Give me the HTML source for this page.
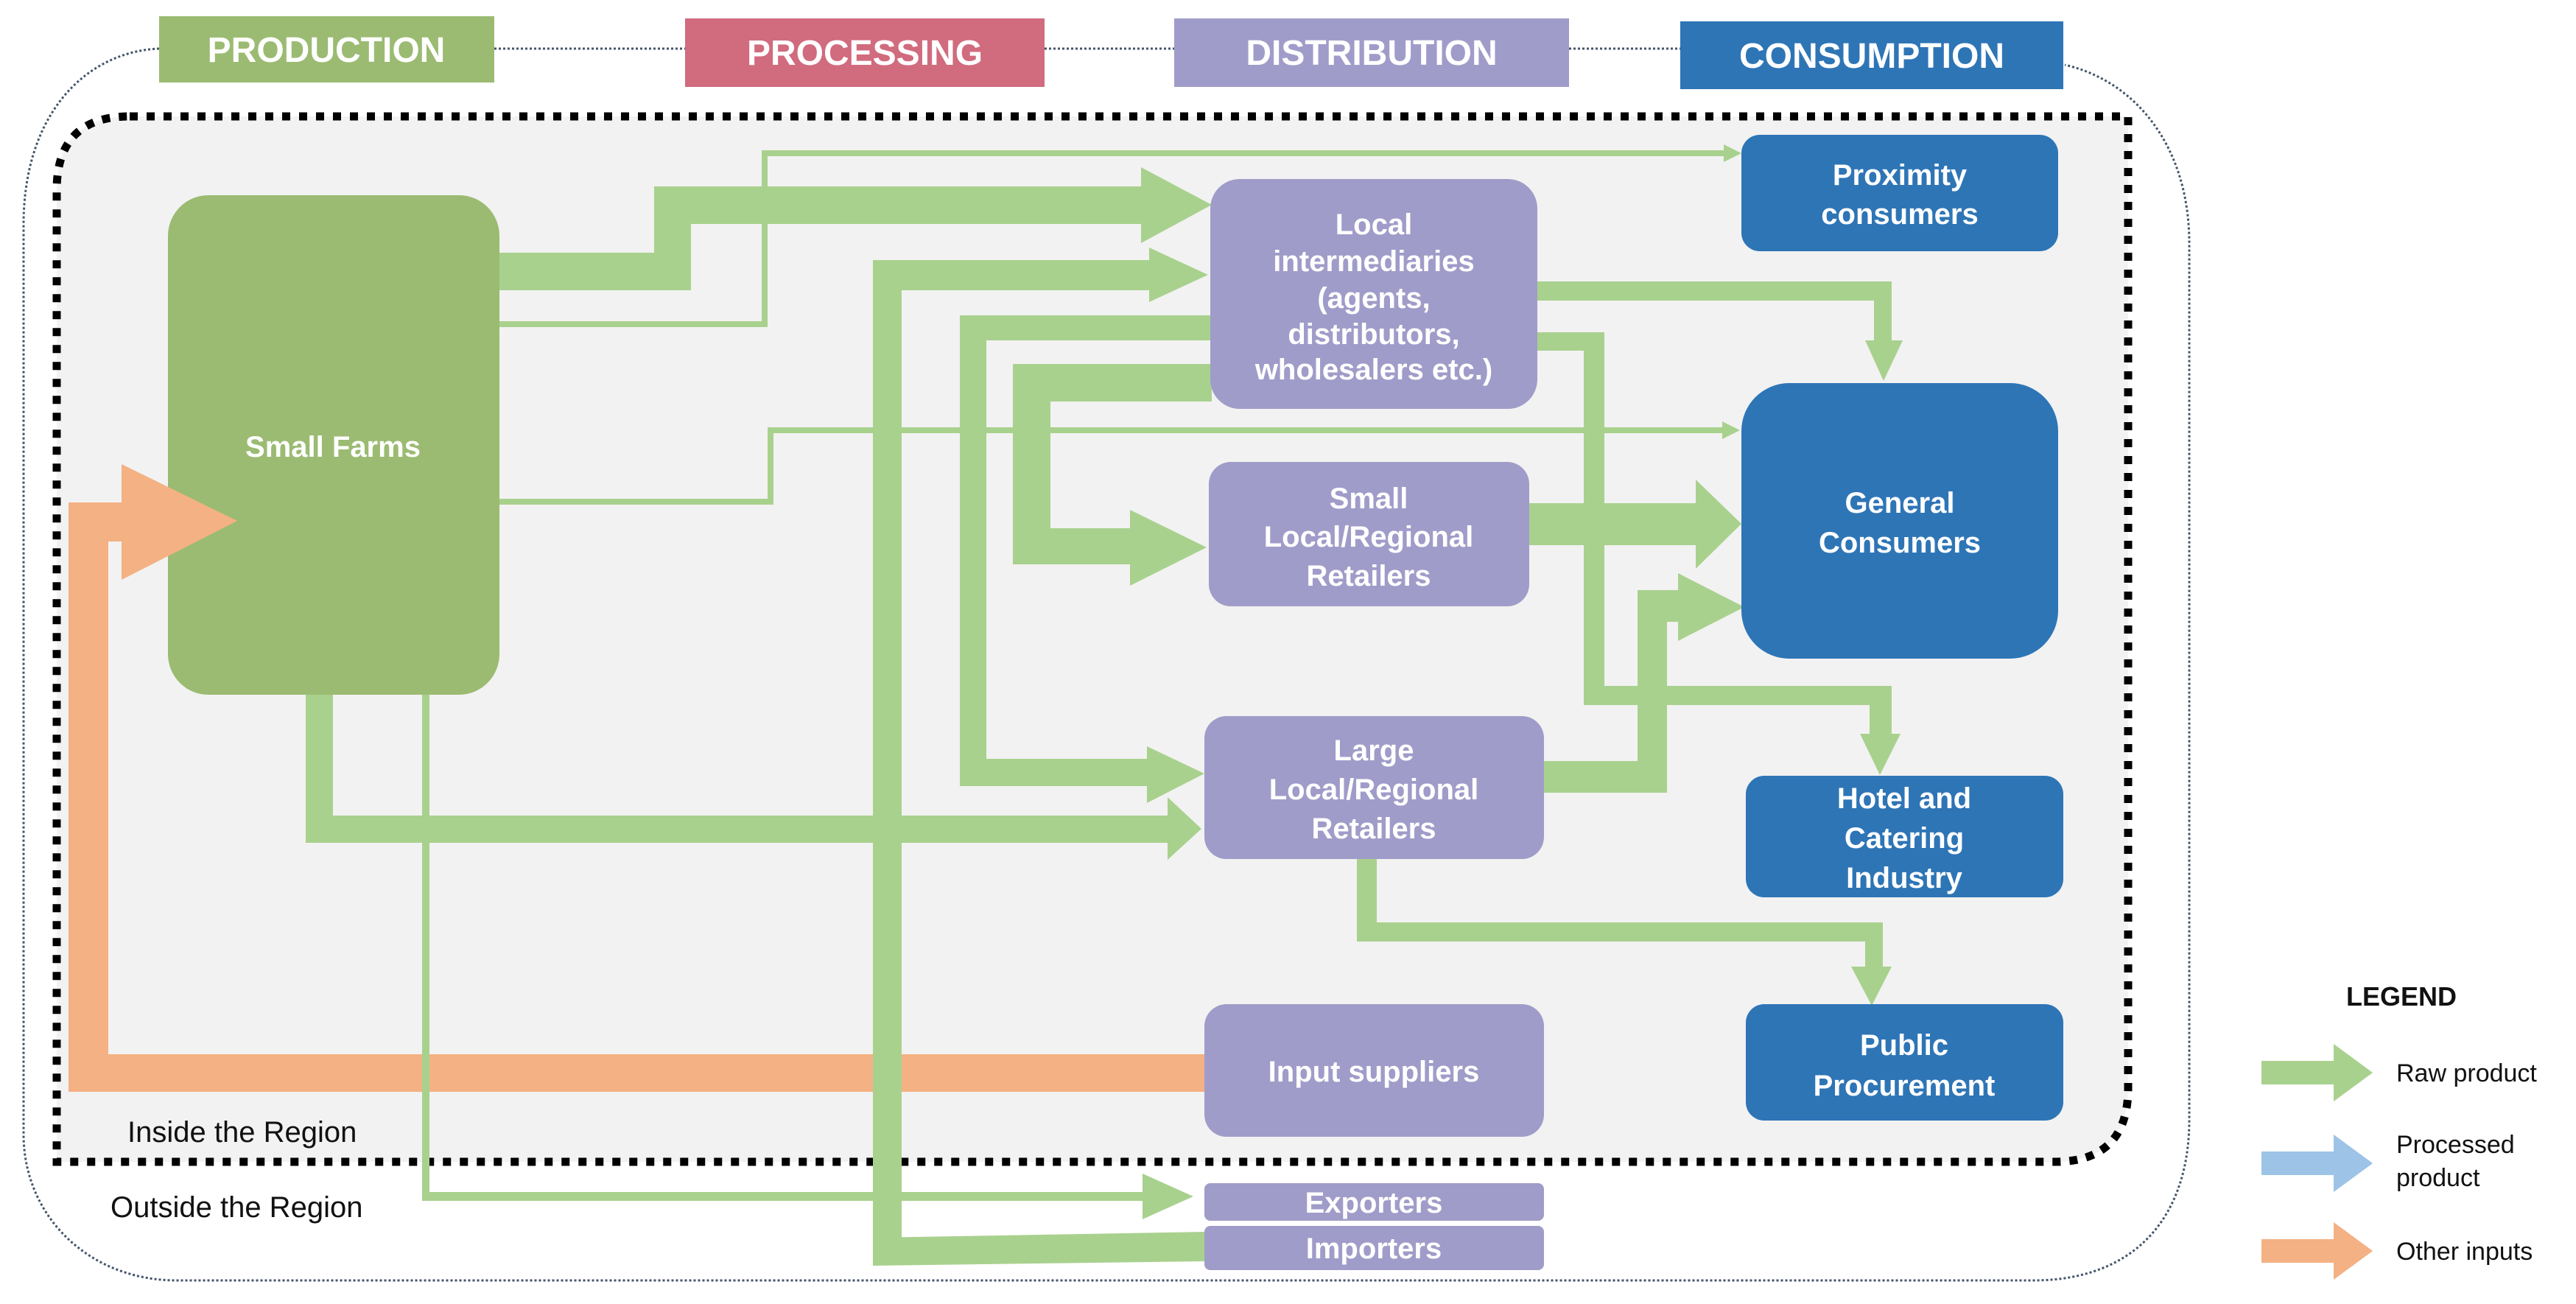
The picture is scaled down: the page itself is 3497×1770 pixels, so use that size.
<!DOCTYPE html>
<html><head><meta charset="utf-8"><style>
html,body{margin:0;padding:0;background:#fff;}
svg{display:block;}
text{font-family:"Liberation Sans",Arial,sans-serif;}
.h{font-weight:bold;font-size:48px;fill:#fff;}
.n{font-weight:bold;font-size:40px;fill:#fff;}
.l{font-size:40px;fill:#111;}
</style></head><body>
<svg width="3497" height="1770" viewBox="0 0 3497 1770" xmlns="http://www.w3.org/2000/svg">
<!-- outer dotted frame -->
<path d="M216,66 C120,70 34,150 32,300 L32,1540 C32,1650 120,1738 240,1738 L2760,1738 C2900,1738 2972,1650 2972,1520 L2972,330 C2972,200 2900,110 2803,88" fill="none" stroke="#44546a" stroke-width="3" stroke-dasharray="3,3"/>
<line x1="671" y1="66" x2="930" y2="66" stroke="#44546a" stroke-width="3" stroke-dasharray="3,3"/>
<line x1="1418" y1="66" x2="1594" y2="66" stroke="#44546a" stroke-width="3" stroke-dasharray="3,3"/>
<line x1="2130" y1="66" x2="2281" y2="66" stroke="#44546a" stroke-width="3" stroke-dasharray="3,3"/>
<!-- inner region -->
<path d="M176,158 L2889,158 L2889,1477 Q2889,1577 2789,1577 L77,1577 L77,258 Q77,158 176,158 Z" fill="#f2f2f2" stroke="#000" stroke-width="11" stroke-dasharray="11,12"/>
<!-- headers -->
<rect x="216" y="22" width="455" height="90" fill="#9bbb72"/>
<text class="h" x="443" y="84" text-anchor="middle">PRODUCTION</text>
<rect x="930" y="25" width="488" height="93" fill="#d16b7e"/>
<text class="h" x="1174" y="88" text-anchor="middle">PROCESSING</text>
<rect x="1594" y="25" width="536" height="93" fill="#a09cc9"/>
<text class="h" x="1862" y="88" text-anchor="middle">DISTRIBUTION</text>
<rect x="2281" y="29" width="520" height="92" fill="#2e75b6"/>
<text class="h" x="2541" y="92" text-anchor="middle">CONSUMPTION</text>

<!-- orange input shaft -->
<g fill="#f4b183">
<rect x="93" y="1431" width="1547" height="51"/>
<rect x="93" y="682" width="54" height="800"/>
<rect x="93" y="682" width="77" height="53"/>
</g>

<!-- green flows -->
<g fill="#a9d18e">
<rect x="678" y="343" width="260" height="51"/>
<rect x="888" y="253" width="50" height="141"/>
<rect x="888" y="253" width="662" height="51"/>
<polygon points="1549,227 1645,278 1549,330"/>
<rect x="672" y="436" width="370" height="8"/>
<rect x="1034" y="204" width="8" height="240"/>
<rect x="1034" y="204" width="1310" height="8"/>
<polygon points="2340,196 2364,208 2340,220"/>
<rect x="672" y="677" width="378" height="8"/>
<rect x="1042" y="580" width="8" height="105"/>
<rect x="1042" y="580" width="1300" height="8"/>
<polygon points="2338,572 2362,584 2338,596"/>
<rect x="1185" y="353" width="39" height="1362"/>
<rect x="1185" y="353" width="380" height="41"/>
<polygon points="1560,336 1640,373 1560,410"/>
<polygon points="1185,1680 1637,1672 1637,1712 1185,1718"/>
<rect x="1303" y="428" width="342" height="34"/>
<rect x="1303" y="428" width="36" height="639"/>
<rect x="1303" y="1030" width="258" height="37"/>
<polygon points="1557,1013 1635,1050 1557,1090"/>
<rect x="1375" y="494" width="270" height="51"/>
<rect x="1375" y="494" width="51" height="272"/>
<rect x="1375" y="717" width="162" height="49"/>
<polygon points="1534,692 1638,743 1534,795"/>
<rect x="415" y="940" width="37" height="204"/>
<rect x="415" y="1107" width="1175" height="37"/>
<polygon points="1585,1082 1631,1125 1585,1167"/>
<rect x="573" y="940" width="10" height="690"/>
<rect x="573" y="1618" width="982" height="12"/>
<polygon points="1551,1593 1620,1624 1551,1655"/>
<rect x="2085" y="382" width="483" height="26"/>
<rect x="2544" y="382" width="24" height="85"/>
<polygon points="2532,462 2583,462 2557,517"/>
<rect x="2085" y="451" width="93" height="25"/>
<rect x="2150" y="451" width="28" height="506"/>
<rect x="2150" y="931" width="418" height="26"/>
<rect x="2538" y="931" width="30" height="70"/>
<polygon points="2525,996 2580,996 2552,1052"/>
<rect x="2070" y="683" width="236" height="57"/>
<polygon points="2302,651 2364,711 2302,772"/>
<rect x="2090" y="1033" width="173" height="43"/>
<rect x="2223" y="801" width="40" height="275"/>
<rect x="2223" y="801" width="60" height="43"/>
<polygon points="2278,778 2368,824 2278,870"/>
<rect x="1842" y="1160" width="27" height="118"/>
<rect x="1842" y="1252" width="714" height="26"/>
<rect x="2532" y="1252" width="24" height="65"/>
<polygon points="2513,1312 2568,1312 2541,1365"/>
</g>

<!-- nodes -->
<rect x="228" y="265" width="450" height="678" rx="55" fill="#9bbb72"/>
<text class="n" x="452" y="620" text-anchor="middle">Small Farms</text>
<!-- orange head over farms -->
<polygon fill="#f4b183" points="165,630 322,707 165,787"/>

<g fill="#a09cc9">
<rect x="1643" y="243" width="444" height="312" rx="40"/>
<rect x="1641" y="627" width="435" height="196" rx="30"/>
<rect x="1635" y="972" width="461" height="194" rx="30"/>
<rect x="1635" y="1363" width="461" height="180" rx="30"/>
<rect x="1635" y="1606" width="461" height="51" rx="8"/>
<rect x="1635" y="1664" width="461" height="60" rx="8"/>
</g>
<g text-anchor="middle">
<text class="n" x="1865" y="318">Local</text>
<text class="n" x="1865" y="368">intermediaries</text>
<text class="n" x="1865" y="418">(agents,</text>
<text class="n" x="1865" y="467">distributors,</text>
<text class="n" x="1865" y="515">wholesalers etc.)</text>
<text class="n" x="1858" y="690">Small</text>
<text class="n" x="1858" y="742">Local/Regional</text>
<text class="n" x="1858" y="795">Retailers</text>
<text class="n" x="1865" y="1032">Large</text>
<text class="n" x="1865" y="1085">Local/Regional</text>
<text class="n" x="1865" y="1138">Retailers</text>
<text class="n" x="1865" y="1468">Input suppliers</text>
<text class="n" x="1865" y="1646">Exporters</text>
<text class="n" x="1865" y="1708">Importers</text>
</g>

<g fill="#2e75b6">
<rect x="2364" y="183" width="430" height="158" rx="25"/>
<rect x="2364" y="520" width="430" height="374" rx="65"/>
<rect x="2370" y="1053" width="431" height="165" rx="25"/>
<rect x="2370" y="1363" width="431" height="158" rx="25"/>
</g>
<g text-anchor="middle">
<text class="n" x="2579" y="251">Proximity</text>
<text class="n" x="2579" y="304">consumers</text>
<text class="n" x="2579" y="696">General</text>
<text class="n" x="2579" y="750">Consumers</text>
<text class="n" x="2585" y="1097">Hotel and</text>
<text class="n" x="2585" y="1151">Catering</text>
<text class="n" x="2585" y="1205">Industry</text>
<text class="n" x="2585" y="1432">Public</text>
<text class="n" x="2585" y="1487">Procurement</text>
</g>

<text class="l" x="173" y="1550">Inside the Region</text>
<text class="l" x="150" y="1652">Outside the Region</text>

<!-- legend -->
<text x="3185" y="1365" style="font-weight:bold;font-size:36px;fill:#111;">LEGEND</text>
<g fill="#a9d18e"><rect x="3070" y="1440" width="100" height="32"/><polygon points="3168,1417 3221,1456 3168,1495"/></g>
<text class="l" x="3253" y="1468" style="font-size:34px">Raw product</text>
<g fill="#9dc3e6"><rect x="3070" y="1563" width="100" height="32"/><polygon points="3168,1540 3221,1579 3168,1618"/></g>
<text class="l" x="3253" y="1565" style="font-size:34px">Processed</text>
<text class="l" x="3253" y="1610" style="font-size:34px">product</text>
<g fill="#f4b183"><rect x="3070" y="1682" width="100" height="32"/><polygon points="3168,1659 3221,1698 3168,1737"/></g>
<text class="l" x="3253" y="1710" style="font-size:34px">Other inputs</text>
</svg>
</body></html>
